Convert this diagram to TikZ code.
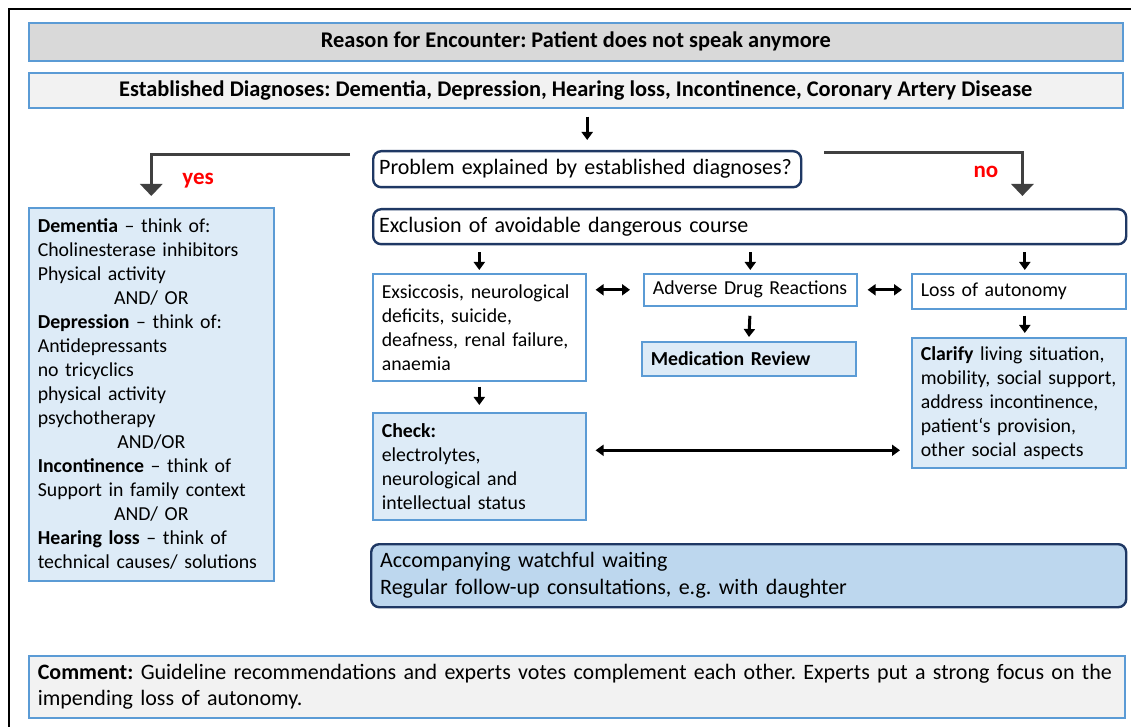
\documentclass[tikz,border=0pt]{standalone}
\usepackage{fontspec}
\setmainfont{Carlito}
\usetikzlibrary{arrows.meta}
\frenchspacing

\definecolor{boxblue}{HTML}{5B9BD5}
\definecolor{navy}{HTML}{1F3864}
\definecolor{lightblue}{HTML}{DDEBF7}
\definecolor{midblue}{HTML}{BDD7EE}
\definecolor{headgray}{HTML}{D9D9D9}
\definecolor{palegray}{HTML}{F2F2F2}
\definecolor{branchgray}{HTML}{404040}

\newcommand{\andor}[1]{\leavevmode\hfill #1\hfill\null}

\begin{document}
\begin{tikzpicture}[x=0.5pt, y=-0.5pt,
  header/.style={draw=boxblue, line width=0.8pt, minimum width=547pt, anchor=north west, inner sep=0pt, font=\bfseries\fontsize{11.2}{13}\selectfont},
  plainbox/.style={draw=boxblue, line width=0.8pt, fill=white, anchor=north west, align=left, inner xsep=4.5pt, inner ysep=3pt, font=\fontsize{9.9}{12}\selectfont},
  bluebox/.style={plainbox, fill=lightblue},
  roundbox/.style={draw=navy, line width=1.2pt, rounded corners=4pt, anchor=north west, align=left, inner xsep=3pt, inner ysep=3pt, font=\fontsize{11}{13.5}\selectfont},
  arrow/.style={-{Triangle[length=4pt,width=5.5pt]}, line width=1.5pt},
  twoway/.style={{Triangle[length=4pt,width=5.5pt]}-{Triangle[length=4pt,width=5.5pt]}, line width=1.5pt},
  branch/.style={-{Triangle[length=6pt,width=11pt]}, line width=1.5pt, draw=branchgray},
  answer/.style={text=red, font=\bfseries\fontsize{11.5}{13}\selectfont}
]
\useasboundingbox (0,0) rectangle (1131,727);

% Frame
\draw[line width=1pt] (9,727) -- (9,9) -- (1131,9);

% Header
\node[header, fill=headgray, minimum height=19pt] (reason) at (28,22) {Reason for Encounter: Patient does not speak anymore};
\node[header, fill=palegray, minimum height=17.5pt] (established) at (28,72) {Established Diagnoses: Dementia, Depression, Hearing loss, Incontinence, Coronary Artery Disease};

% Decisions
\node[roundbox, fill=white, text width=208pt, minimum height=18pt] (problem) at (372,150) {Problem explained by established diagnoses?};
\node[roundbox, fill=white, text width=370.5pt, minimum height=17.5pt] (exclusion) at (372,208) {Exclusion of avoidable dangerous course};

% Yes branch
\node[bluebox, text width=113.5pt, minimum height=186.5pt] (thinkof) at (28,207) {\textbf{Dementia} -- think of:\\
Cholinesterase inhibitors\\
Physical activity\\
\andor{AND/ OR}\\
\textbf{Depression} -- think of:\\
Antidepressants\\
no tricyclics\\
physical activity\\
psychotherapy\\
\andor{AND/OR}\\
\textbf{Incontinence} -- think of\\
Support in family context\\
\andor{AND/ OR}\\
\textbf{Hearing loss} -- think of\\
technical causes/ solutions};

% Dangerous courses
\node[plainbox, text width=97.5pt, minimum height=53.5pt] (exsiccosis) at (372,273) {Exsiccosis, neurological\\
deficits, suicide,\\
deafness, renal failure,\\
anaemia};
\node[plainbox, text width=97.5pt, minimum height=16pt] (adverse) at (643,273) {Adverse Drug Reactions};
\node[plainbox, text width=98pt, minimum height=17.5pt] (autonomy) at (911,273) {Loss of autonomy};

% Actions
\node[bluebox, text width=98pt, minimum height=17pt] (review) at (641,341) {\textbf{Medication Review}};
\node[bluebox, text width=98pt, minimum height=65pt] (clarify) at (911,337) {\textbf{Clarify} living situation,\\
mobility, social support,\\
address incontinence,\\
patient‘s provision,\\
other social aspects};
\node[bluebox, text width=97.5pt, minimum height=53.5pt] (check) at (372,412) {\textbf{Check:}\\
electrolytes,\\
neurological and\\
intellectual status};
\node[roundbox, fill=midblue, inner xsep=4.5pt, text width=368.5pt, minimum height=31.5pt] (waiting) at (370,543) {Accompanying watchful waiting\\
Regular follow-up consultations, e.g.\ with daughter};

% Comment
\node[plainbox, fill=palegray, text width=539pt, minimum height=31pt, font=\fontsize{11}{13}\selectfont] (comment) at (28,655) {\textbf{Comment:} Guideline recommendations and experts votes complement each other. Experts put a strong focus on the\\
impending loss of autonomy.};

% Arrows
\draw[arrow, shorten <=4pt, shorten >=5pt] (established.south -| problem.north) -- (problem.north);
\draw[branch, shorten >=5.5pt] ([xshift=-11pt,yshift=7.5pt]problem.west) -| (thinkof.north) node[answer, pos=0.75, right=11.5pt] {yes};
\draw[branch, shorten >=6pt] ([xshift=11pt,yshift=8.5pt]problem.east) -| ([xshift=-52.5pt]exclusion.north east) node[answer, pos=0.68, left=8pt] {no};
\draw[arrow, shorten <=3.5pt, shorten >=1.5pt] (exclusion.south -| exsiccosis.north) -- (exsiccosis.north);
\draw[arrow, shorten <=3.5pt, shorten >=1.5pt] (exclusion.south -| adverse.north) -- (adverse.north);
\draw[arrow, shorten <=3.5pt, shorten >=1.5pt] (exclusion.south -| autonomy.north) ++(6,0) -- ([xshift=3pt]autonomy.north);
\draw[twoway, shorten <=4.5pt, shorten >=6.5pt] (adverse.west -| exsiccosis.east) -- (adverse.west);
\draw[twoway, shorten <=5pt, shorten >=4.5pt] (adverse.east) -- (adverse.east -| autonomy.west);
\draw[arrow, shorten <=5pt, shorten >=2pt] (adverse) ++(0,16) -- (review.north);
\draw[arrow, shorten <=3pt, shorten >=2pt] ([xshift=3pt]autonomy.south) -- ([xshift=3pt]clarify.north);
\draw[arrow, shorten <=2.5pt, shorten >=3.5pt] (exsiccosis.south) -- (check.north);
\draw[twoway, shorten <=4.5pt, shorten >=5.5pt] ([yshift=8pt]check.east) -- ([yshift=8pt]check.east -| clarify.west);

\end{tikzpicture}
\end{document}
